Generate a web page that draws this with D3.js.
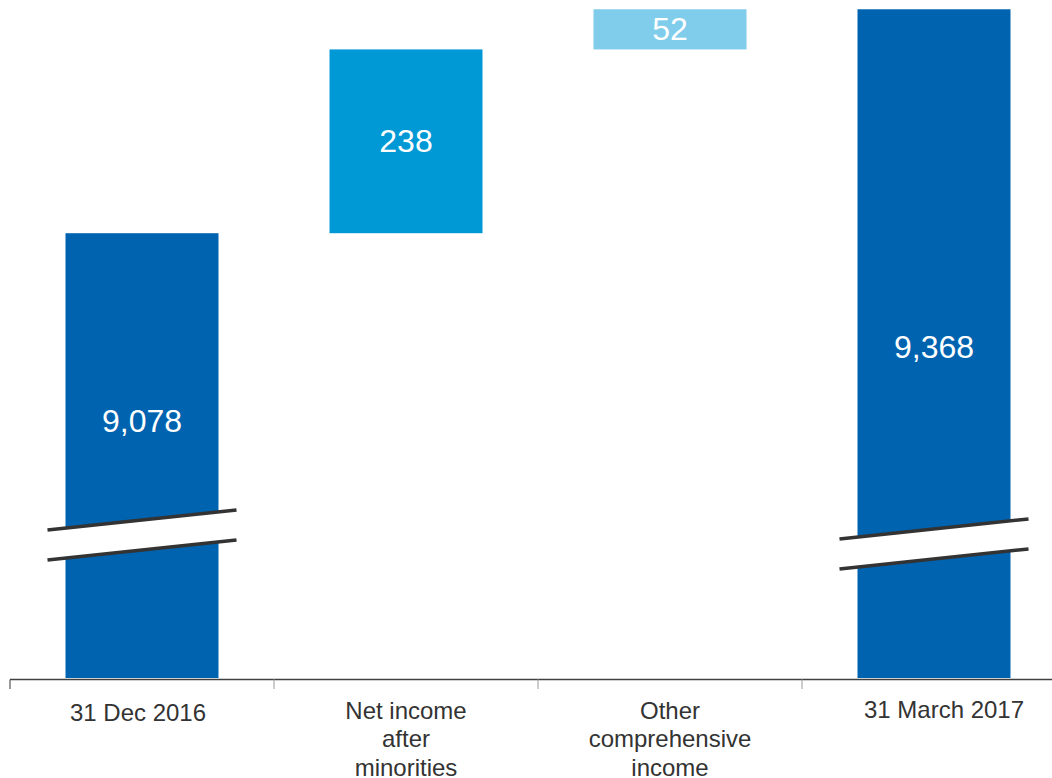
<!DOCTYPE html>
<html>
<head>
<meta charset="utf-8">
<script src="https://cdn.jsdelivr.net/npm/d3@7"></script>
<style>
  html, body { margin: 0; padding: 0; background: #fff; }
  svg { display: block; }
</style>
</head>
<body>
<svg id="chart" width="1052" height="778"></svg>
<script>
// ---- data ----
const categories = ["31 Dec 2016", "Net income after minorities", "Other comprehensive income", "31 March 2017"];
const categoryLines = [["31 Dec 2016"], ["Net income", "after", "minorities"], ["Other", "comprehensive", "income"], ["31 March 2017"]];
const values = [9078, 238, 52, 9368];
const valueLabels = ["9,078", "238", "52", "9,368"];
const barTypes = ["total", "delta", "delta", "total"];
const barColors = ["#0063b0", "#0099d6", "#80cceb", "#0063b0"];
const yDomain = [8502, 9380];

// ---- build waterfall segments ----
let running = 0;
const bars = categories.map((c, i) => {
  let y0, y1;
  if (barTypes[i] === "total") { y0 = yDomain[0]; y1 = values[i]; running = values[i]; }
  else { y0 = running; y1 = running + values[i]; running = y1; }
  return { cat: c, lines: categoryLines[i], y0, y1, label: valueLabels[i], color: barColors[i], type: barTypes[i], i };
});

const svg = d3.select("#chart");
const x = d3.scaleBand().domain(categories).range([10, 1066]).paddingInner(0).paddingOuter(0);
const y = d3.scaleLinear().domain(yDomain).range([678, 0]);
const barW = 153;
const cx = d => x(d) + x.bandwidth() / 2;

// bars
svg.append("g").selectAll("rect").data(bars).join("rect")
  .attr("x", d => cx(d.cat) - barW / 2)
  .attr("width", barW)
  .attr("y", d => y(Math.max(d.y0, d.y1)))
  .attr("height", d => Math.abs(y(d.y0) - y(d.y1)))
  .attr("fill", d => d.color);

// axis break marks on total bars
const breakCenters = { 0: 535, 3: 544 };
const bg = svg.append("g");
bars.filter(d => d.type === "total").forEach(d => {
  const c = cx(d.cat);
  const xl = c - barW / 2 - 18, xr = c + barW / 2 + 18;
  const yc = breakCenters[d.i];
  const slope = 10;
  const gap = 15;
  const up = [[xl, yc - gap + slope], [xr, yc - gap - slope]];
  const lo = [[xl, yc + gap + slope], [xr, yc + gap - slope]];
  bg.append("path")
    .attr("d", d3.line()([up[0], up[1], lo[1], lo[0]]) + "Z")
    .attr("fill", "#fff");
  [up, lo].forEach(l => bg.append("path")
    .attr("d", d3.line()(l))
    .attr("stroke", "#333")
    .attr("stroke-width", 3.5)
    .attr("fill", "none"));
});

// value labels
svg.append("g").selectAll("text").data(bars).join("text")
  .attr("x", d => cx(d.cat))
  .attr("y", d => {
    const mid = (y(d.y0) + y(d.y1)) / 2;
    return d.i === 0 ? mid - 35 : mid + (d.type === "total" ? 3 : -1);
  })
  .attr("dy", "0.35em")
  .attr("text-anchor", "middle")
  .attr("fill", "#fff")
  .attr("font-family", "Liberation Sans, Arial, sans-serif")
  .attr("font-size", 32)
  .text(d => d.label);

// x axis
const axisY = 679.5;
const ax = svg.append("g");
ax.append("line").attr("x1", 10).attr("x2", 1052).attr("y1", axisY).attr("y2", axisY)
  .attr("stroke", "#404040").attr("stroke-width", 1.5);
ax.selectAll("line.tick").data(categories).join("line").attr("class", "tick")
  .attr("x1", d => x(d)).attr("x2", d => x(d))
  .attr("y1", axisY).attr("y2", 689)
  .attr("stroke", (d, i) => i === 0 ? "#555" : "#aaa").attr("stroke-width", 1.2);

// category labels (single-line labels are slightly offset in the original)
const labelDx = { 0: -4, 3: 10 };
const labelY = { 0: 720.5, 3: 717.5 };
const lab = ax.selectAll("text.cat").data(bars).join("text").attr("class", "cat")
  .attr("y", d => labelY[d.i] !== undefined ? labelY[d.i] : 718.5)
  .attr("text-anchor", "middle")
  .attr("fill", "#333")
  .attr("font-family", "Liberation Sans, Arial, sans-serif")
  .attr("font-size", 24);
lab.each(function(d) {
  const px = cx(d.cat) + (labelDx[d.i] || 0);
  d3.select(this).selectAll("tspan").data(d.lines).join("tspan")
    .attr("x", px)
    .attr("dy", (t, k) => k === 0 ? 0 : 28.5)
    .text(t => t);
});
</script>
</body>
</html>
